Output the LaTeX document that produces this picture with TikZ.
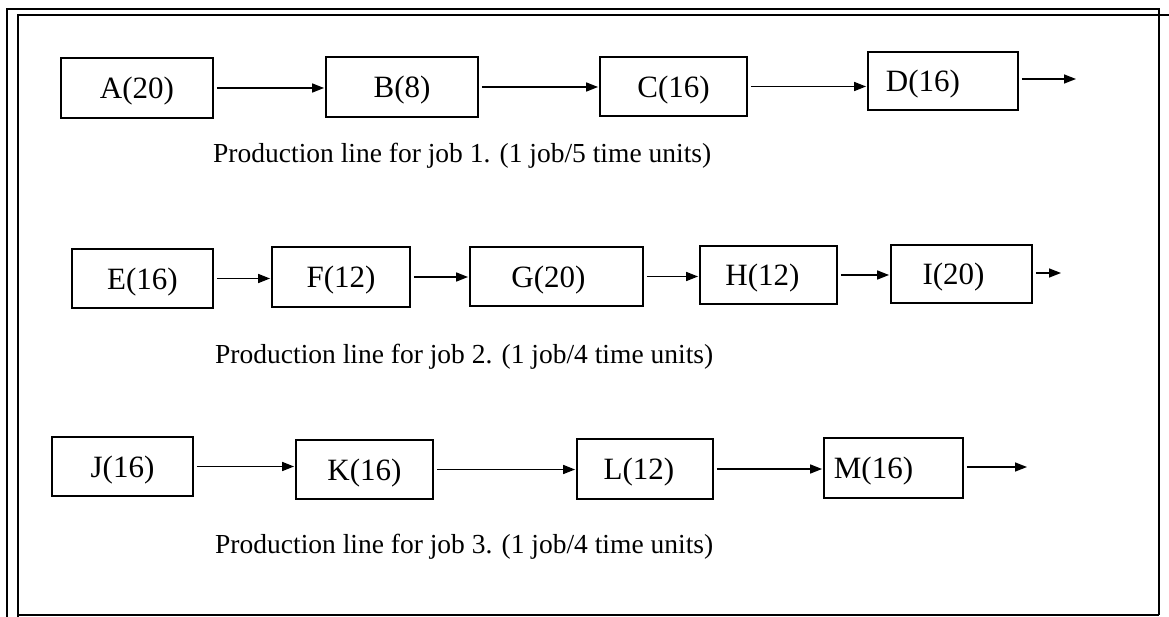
\documentclass[tikz,border=0pt]{standalone}
\usepackage{fontspec}
\setmainfont{Liberation Serif}
\usetikzlibrary{arrows.meta}

\tikzset{
  stage/.style={draw, line width=1.8pt, rectangle, inner sep=0pt, text depth=0pt,
                font=\fontsize{31}{36}\selectfont},
  flow/.style={line width=1.5pt, -{Triangle[length=12pt,width=9pt]},
               shorten <=3pt, shorten >=1pt},
  caption/.style={anchor=base west, inner sep=0pt,
                  font=\fontsize{27.5}{32}\selectfont},
  frame/.style={line width=1.3pt}
}

\begin{document}
\begin{tikzpicture}[x=1pt,y=-1pt]
  \useasboundingbox (0,0) rectangle (1169,617);

  % double frame
  \draw[frame] (7,617) -- (7,9) -- (1159,9) -- (1159,615);
  \draw[frame] (18,617) -- (18,15) -- (1169,15);
  \draw[frame] (18,615) -- (1159,615);

  % job 1
  \node[stage, minimum width=152pt, minimum height=60pt] (A) at (137,88) {A(20)};
  \node[stage, minimum width=152pt, minimum height=60pt] (B) at (402,87) {B(8)};
  \node[stage, minimum width=147pt, minimum height=59pt] (C) at (673.5,86.5) {C(16)};
  \node[stage, minimum width=150pt, minimum height=58pt] (D) at (943,81) {D(16)\kern40pt};
  \coordinate (Dout) at (1077,79);
  \draw[flow] (A.east) -- (A.east -| B.west);
  \draw[flow] (B.east) -- (B.east -| C.west);
  \draw[flow] (C.east) -- (C.east -| D.west);
  \draw[flow] (D.east |- Dout) -- (Dout);
  \node[caption] (cap1) at (213,163) {Production line for job 1. (1 job/5 time units)};

  % job 2
  \node[stage, minimum width=141pt, minimum height=59pt] (E) at (142.5,278.5) {E(16)};
  \node[stage, minimum width=138pt, minimum height=60pt] (F) at (341,277) {F(12)};
  \node[stage, minimum width=173pt, minimum height=59pt] (G) at (556.5,276.5) {G(20)\kern16pt};
  \node[stage, minimum width=137pt, minimum height=58pt] (H) at (768.5,275) {H(12)\kern12pt};
  \node[stage, minimum width=141pt, minimum height=58pt] (I) at (961.5,274) {I(20)\kern16pt};
  \coordinate (Iout) at (1062,273);
  \draw[flow] (E.east) -- (E.east -| F.west);
  \draw[flow] (F.east) -- (F.east -| G.west);
  \draw[flow] (G.east) -- (G.east -| H.west);
  \draw[flow] (H.east) -- (H.east -| I.west);
  \draw[flow] (I.east |- Iout) -- (Iout);
  \node[caption] (cap2) at (215,363) {Production line for job 2. (1 job/4 time units)};

  % job 3
  \node[stage, minimum width=141pt, minimum height=59pt] (J) at (122.5,466.5) {J(16)};
  \node[stage, minimum width=137pt, minimum height=59pt] (K) at (364.5,469.5) {K(16)};
  \node[stage, minimum width=136pt, minimum height=60pt] (L) at (645,469) {L(12)\kern12pt};
  \node[stage, minimum width=139pt, minimum height=60pt] (M) at (893.5,468) {M(16)\kern40pt};
  \coordinate (Mout) at (1028,467);
  \draw[flow] (J.east) -- (J.east -| K.west);
  \draw[flow] (K.east) -- (K.east -| L.west);
  \draw[flow] (L.east) -- (L.east -| M.west);
  \draw[flow] (M.east |- Mout) -- (Mout);
  \node[caption] (cap3) at (215,553) {Production line for job 3. (1 job/4 time units)};
\end{tikzpicture}
\end{document}
